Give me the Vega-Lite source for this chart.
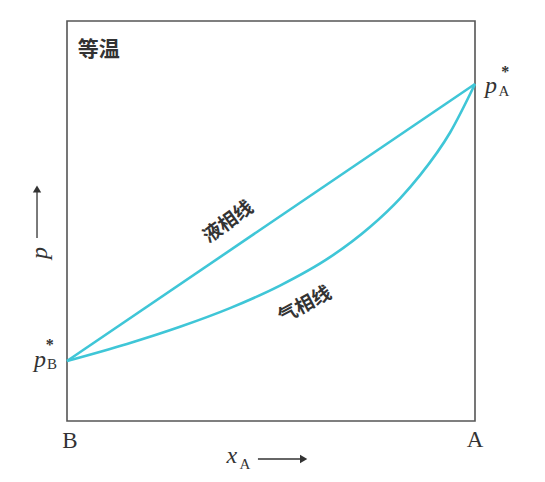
{
  "$schema": "https://vega.github.io/schema/vega-lite/v6.json",
  "width": 408,
  "height": 400,
  "autosize": {"type": "none"},
  "padding": {"left": 67, "top": 21, "right": 70, "bottom": 61},
  "background": "white",
  "config": {"view": {"stroke": "#555555", "strokeWidth": 1.6}},
  "datasets": {
    "curves": [
      {"curve": "liquid", "order": 0, "x": 0, "p": 0.15},
      {"curve": "liquid", "order": 1, "x": 1, "p": 0.8425},
      {"curve": "vapor", "order": 0, "x": 0, "p": 0.15},
      {"curve": "vapor", "order": 1, "x": 0.147, "p": 0.1926},
      {"curve": "vapor", "order": 2, "x": 0.277, "p": 0.2355},
      {"curve": "vapor", "order": 3, "x": 0.3995, "p": 0.2821},
      {"curve": "vapor", "order": 4, "x": 0.522, "p": 0.3384},
      {"curve": "vapor", "order": 5, "x": 0.6446, "p": 0.4095},
      {"curve": "vapor", "order": 6, "x": 0.7426, "p": 0.485},
      {"curve": "vapor", "order": 7, "x": 0.816, "p": 0.5562},
      {"curve": "vapor", "order": 8, "x": 0.865, "p": 0.614},
      {"curve": "vapor", "order": 9, "x": 0.939, "p": 0.7213},
      {"curve": "vapor", "order": 10, "x": 1, "p": 0.8425}
    ],
    "cjk": [
      {"label": "液相线", "x": 0.395, "p": 0.4975, "angle": -36},
      {"label": "气相线", "x": 0.583, "p": 0.29, "angle": -28}
    ],
    "title": [{"label": "等温", "x": 0.078, "p": 0.9275}],
    "ends": [
      {"label": "B", "x": 0.007, "p": -0.05},
      {"label": "A", "x": 1.0, "p": -0.0475}
    ],
    "italic": [
      {"label": "x", "x": 0.404, "p": -0.0875, "angle": 0},
      {"label": "p", "x": -0.066, "p": 0.42, "angle": -90},
      {"label": "p", "x": -0.066, "p": 0.1525, "angle": 0},
      {"label": "p", "x": 1.039, "p": 0.8375, "angle": 0}
    ],
    "subs": [
      {"label": "A", "x": 0.436, "p": -0.108},
      {"label": "B", "x": -0.037, "p": 0.1425},
      {"label": "A", "x": 1.071, "p": 0.825}
    ],
    "stars": [
      {"label": "*", "x": -0.042, "p": 0.19},
      {"label": "*", "x": 1.074, "p": 0.8725}
    ],
    "hshaft": [{"x": 0.468, "x2": 0.575, "p": -0.095}],
    "hhead": [{"x": 0.58, "p": -0.095}],
    "vshaft": [{"x": -0.0735, "p": 0.4575, "p2": 0.575}],
    "vhead": [{"x": -0.0735, "p": 0.58}]
  },
  "encoding": {
    "x": {"field": "x", "type": "quantitative", "scale": {"domain": [0, 1], "nice": false, "zero": false}, "axis": null},
    "y": {"field": "p", "type": "quantitative", "scale": {"domain": [0, 1], "nice": false, "zero": false}, "axis": null}
  },
  "layer": [
    {
      "data": {"name": "curves"},
      "mark": {"type": "line", "color": "#3fc6d7", "strokeWidth": 2.6, "interpolate": "monotone"},
      "encoding": {"detail": {"field": "curve"}, "order": {"field": "order", "type": "quantitative"}}
    },
    {
      "data": {"name": "cjk"},
      "mark": {"type": "text", "font": "Noto Sans CJK SC", "fontSize": 19, "fontWeight": "bold", "color": "#333333", "align": "center", "baseline": "middle"},
      "encoding": {"text": {"field": "label"}, "angle": {"field": "angle", "type": "quantitative", "scale": null}}
    },
    {
      "data": {"name": "title"},
      "mark": {"type": "text", "font": "Noto Sans CJK SC", "fontSize": 21, "fontWeight": "bold", "color": "#333333", "align": "center", "baseline": "middle"},
      "encoding": {"text": {"field": "label"}}
    },
    {
      "data": {"name": "ends"},
      "mark": {"type": "text", "font": "Liberation Serif", "fontSize": 23, "color": "#333333", "align": "center", "baseline": "middle"},
      "encoding": {"text": {"field": "label"}}
    },
    {
      "data": {"name": "italic"},
      "mark": {"type": "text", "font": "Liberation Serif", "fontSize": 24, "fontStyle": "italic", "color": "#333333", "align": "center", "baseline": "middle"},
      "encoding": {"text": {"field": "label"}, "angle": {"field": "angle", "type": "quantitative", "scale": null}}
    },
    {
      "data": {"name": "subs"},
      "mark": {"type": "text", "font": "Liberation Serif", "fontSize": 15, "color": "#333333", "align": "center", "baseline": "middle"},
      "encoding": {"text": {"field": "label"}}
    },
    {
      "data": {"name": "stars"},
      "mark": {"type": "text", "font": "Liberation Serif", "fontSize": 16, "fontWeight": "bold", "color": "#333333", "align": "center", "baseline": "middle"},
      "encoding": {"text": {"field": "label"}}
    },
    {
      "data": {"name": "hshaft"},
      "mark": {"type": "rule", "color": "#333333", "strokeWidth": 1.3},
      "encoding": {"x2": {"field": "x2"}}
    },
    {
      "data": {"name": "hhead"},
      "mark": {"type": "point", "shape": "triangle-right", "filled": true, "color": "#333333", "size": 70, "opacity": 1}
    },
    {
      "data": {"name": "vshaft"},
      "mark": {"type": "rule", "color": "#333333", "strokeWidth": 1.3},
      "encoding": {"y2": {"field": "p2"}}
    },
    {
      "data": {"name": "vhead"},
      "mark": {"type": "point", "shape": "triangle-up", "filled": true, "color": "#333333", "size": 70, "opacity": 1}
    }
  ]
}
